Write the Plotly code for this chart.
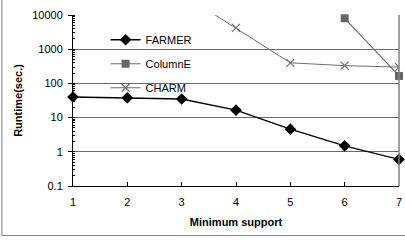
import plotly.graph_objects as go

support = [1, 2, 3, 4, 5, 6, 7]
farmer = [40, 38, 35, 16.5, 4.6, 1.5, 0.6]
columne = [None, None, None, None, None, 8000, 165]
charm = [None, None, 42000, 4200, 400, 330, 300]

y_ticks = [0.1, 1, 10, 100, 1000, 10000]
y_tick_text = ["0.1", "1", "10", "100", "1000", "10000"]

FONT = "Liberation Sans, Arial, sans-serif"

fig = go.Figure()
fig.add_trace(go.Scatter(x=support, y=farmer, name="FARMER", mode="lines+markers",
                         line=dict(color="black", width=1.3),
                         marker=dict(symbol="diamond", size=9, color="black"),
                         legendgroup="a", cliponaxis=False))
fig.add_trace(go.Scatter(x=support, y=columne, name="ColumnE", mode="lines+markers",
                         line=dict(color="#6e6e6e", width=1.2),
                         marker=dict(symbol="square", size=8, color="#666666"),
                         legendgroup="b", cliponaxis=False))
fig.add_trace(go.Scatter(x=support, y=charm, name="CHARM", mode="lines+markers",
                         line=dict(color="#6e6e6e", width=1),
                         marker=dict(symbol="x-thin", size=8, line=dict(color="#6e6e6e", width=1.2)),
                         legendgroup="c", cliponaxis=True))

fig.update_layout(
    width=405, height=241,
    margin=dict(l=73, r=6, t=15, b=55, autoexpand=False),
    paper_bgcolor="white", plot_bgcolor="white",
    font=dict(family=FONT, size=11, color="black"),
    showlegend=True,
    legend=dict(x=0.1, y=0.94, xanchor="left", yanchor="top", bgcolor="rgba(0,0,0,0)",
                font=dict(size=11), tracegroupgap=5, itemwidth=30),
    xaxis=dict(range=[1, 7], tickvals=support, ticks="inside", ticklen=4, tickcolor="black",
               showline=True, linecolor="black", linewidth=1, showgrid=False, zeroline=False,
               automargin=False, ticklabelstandoff=6,
               title=dict(text="<b>Minimum support</b>", font=dict(size=11), standoff=11)),
    yaxis=dict(type="log", range=[-1, 4], tickvals=y_ticks, ticktext=y_tick_text,
               ticks="outside", ticklen=4, tickcolor="black",
               showline=True, linecolor="black", linewidth=1,
               showgrid=True, gridcolor="#6a6a6a", gridwidth=1, zeroline=False,
               automargin=False, ticklabelstandoff=3,
               minor=dict(ticks="inside", ticklen=2, tickcolor="black", showgrid=False, dtick="D1"),
               title=dict(text="<b>Runtime(sec.)</b>", font=dict(size=11), standoff=7)),
    shapes=[
        dict(type="rect", xref="paper", yref="paper", x0=0.003, x1=0.46, y0=0.55, y1=0.97,
             fillcolor="white", line=dict(width=0), layer="between"),
        dict(type="line", xref="paper", yref="paper", x0=1, x1=1, y0=0, y1=1,
             line=dict(color="#808080", width=1.5)),
        dict(type="line", xref="paper", yref="paper", x0=-0.218, x1=-0.218, y0=-0.29, y1=1.1,
             line=dict(color="#808080", width=1)),
        dict(type="line", xref="paper", yref="paper", x0=-0.218, x1=1.02, y0=-0.29, y1=-0.29,
             line=dict(color="#808080", width=1)),
    ],
)

fig.write_html("out.html", post_script="document.body.style.margin='0';",
               config={"displayModeBar": False})
